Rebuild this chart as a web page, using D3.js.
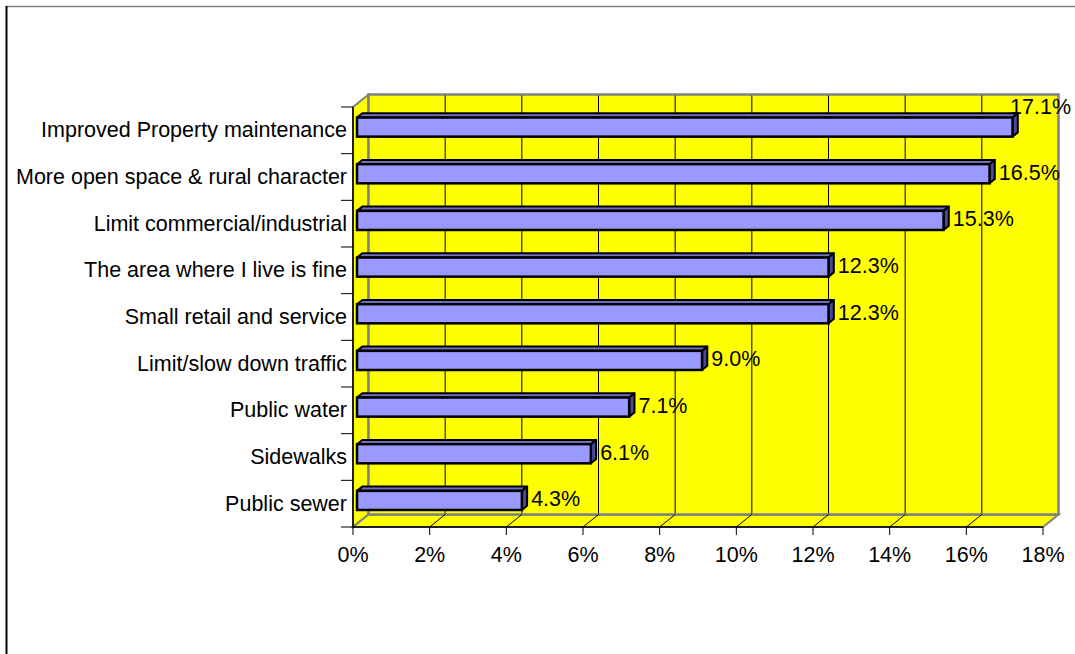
<!DOCTYPE html>
<html>
<head>
<meta charset="utf-8">
<script src="https://cdn.jsdelivr.net/npm/d3@7"></script>
<style>
  html, body { margin: 0; padding: 0; background: #fff; }
  svg { display: block; }
  text { font-family: "Liberation Sans", Arial, sans-serif; fill: #000; }
</style>
</head>
<body>
<svg id="chart" width="1075" height="654"></svg>
<script>
const categories = [
  "Improved Property maintenance",
  "More open space & rural character",
  "Limit commercial/industrial",
  "The area where I live is fine",
  "Small retail and service",
  "Limit/slow down traffic",
  "Public water",
  "Sidewalks",
  "Public sewer"
];
const values = [17.1, 16.5, 15.3, 12.3, 12.3, 9.0, 7.1, 6.1, 4.3];
const xTicks = [0, 2, 4, 6, 8, 10, 12, 14, 16, 18];

const svg = d3.select("#chart");
const W = 1075, H = 654;
const FS = 21.5;

// front plane geometry
const x0 = 353, x1 = 1043, yTop = 107, yBot = 527;
// depth offset of back wall
const DX = 15.5, DY = -12.5;
const barFront = 0.26, barBack = 0.60;

const x = d3.scaleLinear().domain([0, 18]).range([x0, x1]);
const y = d3.scaleBand().domain(categories).range([yTop, yBot]).paddingInner(0).paddingOuter(0);

const wallFill = "#FFFF00", wallStroke = "#808080";

// outer border
svg.append("line").attr("x1", 6).attr("y1", 6.5).attr("x2", W).attr("y2", 6.5)
  .attr("stroke", "#808080").attr("stroke-width", 1.5);
svg.append("line").attr("x1", 6.5).attr("y1", 6).attr("x2", 6.5).attr("y2", H)
  .attr("stroke", "#000").attr("stroke-width", 2);

const pts = a => a.map(p => p.join(",")).join(" ");

// side wall (left)
svg.append("polygon")
  .attr("points", pts([[x0, yTop], [x0 + DX, yTop + DY], [x0 + DX, yBot + DY], [x0, yBot]]))
  .attr("fill", wallFill).attr("stroke", wallStroke).attr("stroke-width", 2);
// floor
svg.append("polygon")
  .attr("points", pts([[x0, yBot], [x0 + DX, yBot + DY], [x1 + DX, yBot + DY], [x1, yBot]]))
  .attr("fill", wallFill).attr("stroke", wallStroke).attr("stroke-width", 2);
// back wall
svg.append("rect")
  .attr("x", x0 + DX).attr("y", yTop + DY)
  .attr("width", x1 - x0).attr("height", yBot - yTop)
  .attr("fill", wallFill).attr("stroke", wallStroke).attr("stroke-width", 2.5);

// gridlines on back wall + floor diagonals
const inner = xTicks.slice(1, -1);
svg.append("g").selectAll("line").data(inner).join("line")
  .attr("x1", d => x(d) + DX).attr("x2", d => x(d) + DX)
  .attr("y1", yTop + DY + 1).attr("y2", yBot + DY - 1)
  .attr("stroke", "#000").attr("stroke-width", 1);
svg.append("g").selectAll("line").data(inner).join("line")
  .attr("x1", d => x(d)).attr("y1", yBot)
  .attr("x2", d => x(d) + DX).attr("y2", yBot + DY)
  .attr("stroke", "#000").attr("stroke-width", 1);

// bars
const bh = y.bandwidth() * 0.41;
const fdx = DX * barFront, fdy = DY * barFront;
const bdx = DX * barBack, bdy = DY * barBack;
const bars = svg.append("g").selectAll("g").data(categories).join("g");
bars.each(function (c, i) {
  const g = d3.select(this);
  const cy = y(c) + y.bandwidth() / 2 + fdy;
  const top = cy - bh / 2, bot = cy + bh / 2;
  const L = x(0) + fdx, R = x(values[i]) + fdx;
  const ddx = bdx - fdx, ddy = bdy - fdy;
  // top face
  g.append("polygon")
    .attr("points", pts([[L, top], [L + ddx, top + ddy], [R + ddx, top + ddy], [R, top]]))
    .attr("fill", "#7272C2").attr("stroke", "#000").attr("stroke-width", 2).attr("stroke-linejoin", "round");
  // end face
  g.append("polygon")
    .attr("points", pts([[R, top], [R + ddx, top + ddy], [R + ddx, bot + ddy], [R, bot]]))
    .attr("fill", "#4A4A99").attr("stroke", "#000").attr("stroke-width", 2).attr("stroke-linejoin", "round");
  // front face
  g.append("rect")
    .attr("x", L).attr("y", top).attr("width", R - L).attr("height", bh)
    .attr("fill", "#9999FF").attr("stroke", "#000").attr("stroke-width", 2.5);

  // value label
  const t = g.append("text")
    .attr("font-size", FS)
    .text(values[i].toFixed(1) + "%");
  const tw = t.node().getComputedTextLength();
  let lx = R + ddx + 4, ly = cy + 6;
  if (lx + tw > W - 4) {
    lx = W - 4 - tw;
    ly = top + ddy + 1;
  }
  t.attr("x", lx).attr("y", ly);
});

// axis lines (front)
svg.append("line").attr("x1", x0).attr("y1", yTop).attr("x2", x0).attr("y2", yBot)
  .attr("stroke", "#000").attr("stroke-width", 1.5);
svg.append("line").attr("x1", x0).attr("y1", yBot).attr("x2", x1).attr("y2", yBot)
  .attr("stroke", "#000").attr("stroke-width", 1.5);

// category axis ticks and labels
const bounds = categories.map(c => y(c)).concat([yBot]);
svg.append("g").selectAll("line").data(bounds).join("line")
  .attr("x1", x0 - 12).attr("x2", x0).attr("y1", d => d).attr("y2", d => d)
  .attr("stroke", "#000").attr("stroke-width", 1);
svg.append("g").selectAll("text").data(categories).join("text")
  .attr("x", x0 - 6)
  .attr("y", c => y(c) + y.bandwidth() / 2 + 7)
  .attr("text-anchor", "end")
  .attr("font-size", FS)
  .text(c => c);

// value axis ticks and labels
svg.append("g").selectAll("line").data(xTicks).join("line")
  .attr("x1", d => x(d)).attr("x2", d => x(d)).attr("y1", yBot).attr("y2", yBot + 8)
  .attr("stroke", "#000").attr("stroke-width", 1);
svg.append("g").selectAll("text").data(xTicks).join("text")
  .attr("x", d => x(d))
  .attr("y", yBot + 35)
  .attr("text-anchor", "middle")
  .attr("font-size", FS)
  .text(d => d + "%");
</script>
</body>
</html>
